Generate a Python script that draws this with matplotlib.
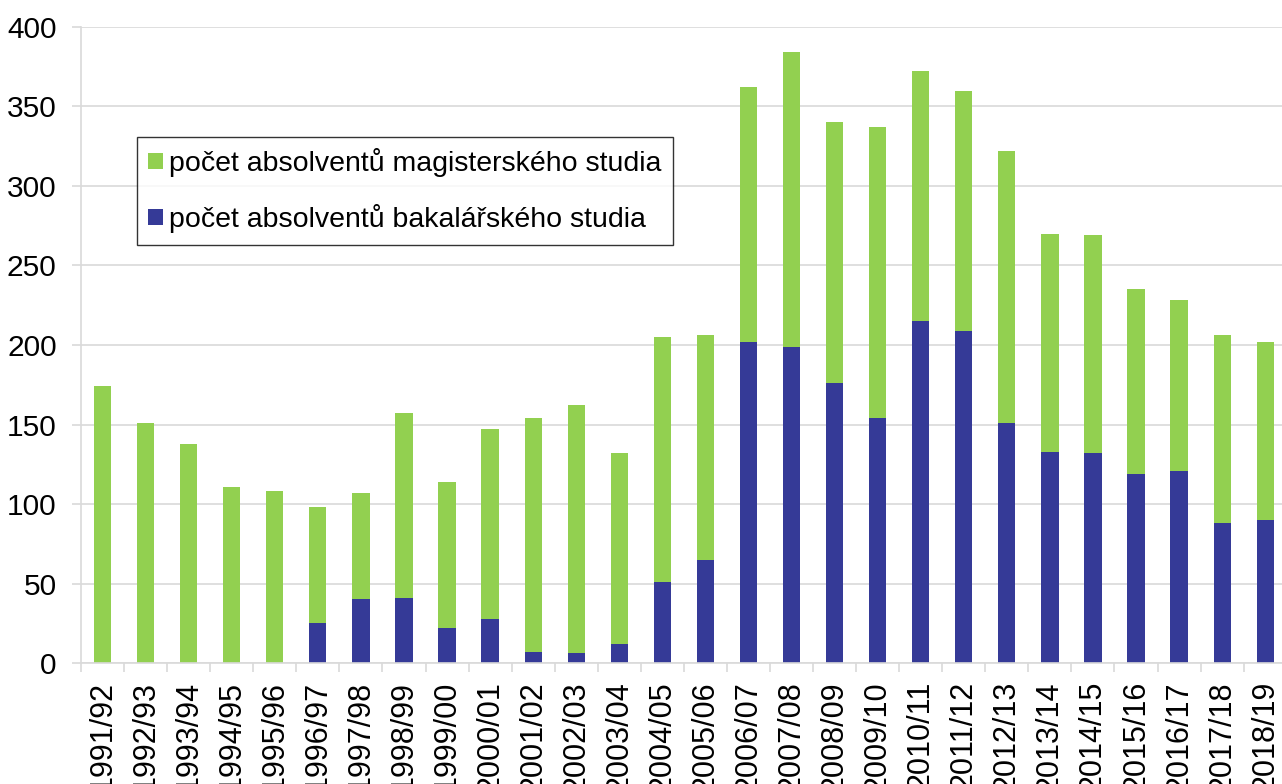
import numpy as np
import matplotlib.pyplot as plt

plt.rcParams['font.family'] = ['Liberation Sans', 'DejaVu Sans']

years = ['1991/92', '1992/93', '1993/94', '1994/95', '1995/96', '1996/97', '1997/98',
         '1998/99', '1999/00', '2000/01', '2001/02', '2002/03', '2003/04', '2004/05',
         '2005/06', '2006/07', '2007/08', '2008/09', '2009/10', '2010/11', '2011/12',
         '2012/13', '2013/14', '2014/15', '2015/16', '2016/17', '2017/18', '2018/19']
total = [174, 151, 138, 111, 108, 98, 107, 157, 114, 147, 154, 162, 132, 205,
         206, 362, 384, 340, 337, 372, 360, 322, 270, 269, 235, 228, 206, 202]
bakalar = [0, 0, 0, 0, 0, 25, 40, 41, 22, 28, 7, 6, 12, 51,
           65, 202, 199, 176, 154, 215, 209, 151, 133, 132, 119, 121, 88, 90]
magistr = [t - b for t, b in zip(total, bakalar)]

green = '#92D050'
blue = '#353A97'

fig = plt.figure(figsize=(12.82, 7.84), dpi=100)
ax = fig.add_axes([0.0632, 0.1543, 0.9405, 0.8113])

x = np.arange(len(years))
w = 0.4
ax.bar(x, bakalar, w, color=blue, label='počet absolventů bakalářského studia', zorder=2)
ax.bar(x, magistr, w, bottom=bakalar, color=green,
       label='počet absolventů magisterského studia', zorder=2)

ax.set_ylim(0, 400)
ax.set_xlim(-0.5, len(years) - 0.5)
ax.set_yticks(np.arange(0, 401, 50))
ax.grid(axis='y', color='#D9D9D9', linewidth=1.2, zorder=0)

ax.set_xticks(x)
ax.set_xticklabels(years, rotation=90, fontsize=22)
ax.set_xticks(np.arange(-0.5, len(years), 1), minor=True)
ax.tick_params(axis='x', which='major', length=0, pad=13)
ax.tick_params(axis='x', which='minor', length=6.5, color='#D9D9D9', width=1.2, direction='out')
ax.tick_params(axis='y', length=6.5, color='#D9D9D9', width=1.2, labelsize=21.5, pad=11)

for s in ['top', 'right']:
    ax.spines[s].set_visible(False)
for s in ['left', 'bottom']:
    ax.spines[s].set_color('#D9D9D9')
    ax.spines[s].set_linewidth(1.2)

handles, labels = ax.get_legend_handles_labels()
leg = ax.legend(handles[::-1], labels[::-1], loc='upper left', bbox_to_anchor=(0.0464, 0.827),
                fontsize=20.5, frameon=True, fancybox=False, edgecolor='black',
                handlelength=0.5, handleheight=0.5, handletextpad=0.22,
                labelspacing=0.95, borderpad=0.4, borderaxespad=0)
leg.get_frame().set_linewidth(1.0)

fig.savefig('out.png', dpi=100)
